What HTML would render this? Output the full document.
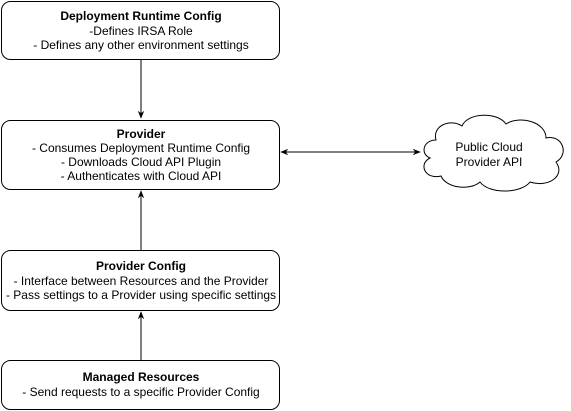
<!DOCTYPE html>
<html><head><style>html,body{margin:0;padding:0;background:#fff}svg{display:block}text{font-family:"Liberation Sans",Arial,sans-serif;font-size:12px;fill:#000}</style></head>
<body>
<svg width="571" height="411" viewBox="0 0 571 411" xmlns="http://www.w3.org/2000/svg">
<defs><marker id="a" viewBox="0 0 10 10" refX="9" refY="5" markerWidth="8" markerHeight="8" orient="auto-start-reverse"><path d="M0,1 L10,5 L0,9 L3,5 Z" fill="#000"/></marker></defs>
<g fill="#fff" stroke="#000" stroke-width="1">
<rect x="1.5" y="1.5" width="278" height="58" rx="9"/>
<rect x="1.5" y="120.5" width="278" height="69" rx="9"/>
<rect x="1.5" y="250.5" width="278" height="60" rx="9"/>
<rect x="1.5" y="360.5" width="278" height="49" rx="9"/>
<path d="M436,140 C423,140 420,154 430,158 C418,164 425,180 441,176 C446,188 470,191 480,182 C490,195 522,193 530,182 C548,188 566,176 556,162 C570,154 562,134 546,138 C546,122 520,115 506,124 C498,112 468,112 462,126 C450,118 432,126 436,140 Z"/>
</g>
<g stroke="#000" stroke-width="1" fill="none">
<line x1="141" y1="60" x2="141" y2="118" marker-end="url(#a)"/>
<line x1="141" y1="250" x2="141" y2="191" marker-end="url(#a)"/>
<line x1="141" y1="360" x2="141" y2="312" marker-end="url(#a)"/>
<line x1="281" y1="152" x2="420" y2="152" marker-start="url(#a)" marker-end="url(#a)"/>
</g>
<g text-anchor="middle">
<text x="141" y="20" font-weight="bold">Deployment Runtime Config</text>
<text x="141" y="35">-Defines IRSA Role</text>
<text x="141" y="49">- Defines any other environment settings</text>
<text x="141" y="138" font-weight="bold">Provider</text>
<text x="141" y="152">- Consumes Deployment Runtime Config</text>
<text x="141" y="166">- Downloads Cloud API Plugin</text>
<text x="141" y="180">- Authenticates with Cloud API</text>
<text x="141" y="270" font-weight="bold">Provider Config</text>
<text x="141" y="285">- Interface between Resources and the Provider</text>
<text x="141" y="299">- Pass settings to a Provider using specific settings</text>
<text x="141" y="381" font-weight="bold">Managed Resources</text>
<text x="141" y="396">- Send requests to a specific Provider Config</text>
<text x="489" y="151">Public Cloud</text>
<text x="489" y="166">Provider API</text>
</g>
</svg>
</body></html>
